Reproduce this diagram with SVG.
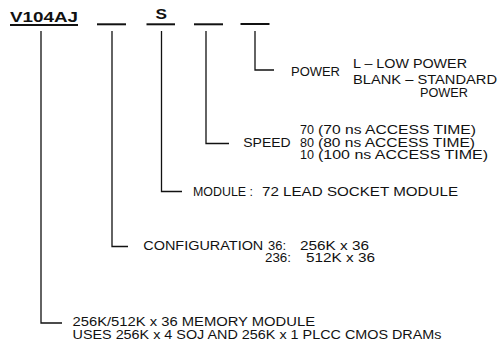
<svg xmlns="http://www.w3.org/2000/svg" width="499" height="346" viewBox="0 0 499 346">
<style>
.t{font-family:"Liberation Sans",Arial,sans-serif;font-size:12px;fill:#111}
.b{font-family:"Liberation Sans",Arial,sans-serif;font-size:15px;font-weight:bold;fill:#111}
.c{fill:none;stroke:#111;stroke-width:1.3}
.u{stroke:#111;stroke-width:2}
</style>
<rect width="499" height="346" fill="#fff"/>
<g id="part-number">
<text class="b" x="10" y="22" textLength="68" lengthAdjust="spacingAndGlyphs">V104AJ</text>
<line class="u" x1="10" y1="25" x2="78" y2="25"/>
</g>
<g id="blank-config"><line class="u" x1="97" y1="24.3" x2="126" y2="24.3"/></g>
<g id="blank-module">
<text class="b" x="155.5" y="19" textLength="11.5" lengthAdjust="spacingAndGlyphs">S</text>
<line class="u" x1="146.5" y1="24.3" x2="175" y2="24.3"/>
</g>
<g id="blank-speed"><line class="u" x1="194" y1="24.3" x2="223" y2="24.3"/></g>
<g id="blank-power"><line class="u" x1="240.5" y1="24" x2="269.5" y2="24"/></g>
<g id="connectors">
<path class="c" d="M41,31 V323 H62"/>
<path class="c" d="M112,31 V246.5 H128"/>
<path class="c" d="M161.5,31 V191.5 H182"/>
<path class="c" d="M206,31 V143.5 H229"/>
<path class="c" d="M255,31 V70 H274"/>
</g>
<g id="power">
<text class="t" x="291" y="76" textLength="49" lengthAdjust="spacingAndGlyphs">POWER</text>
<text class="t" x="353" y="67.5" textLength="114" lengthAdjust="spacingAndGlyphs">L – LOW POWER</text>
<text class="t" x="353" y="84" textLength="144" lengthAdjust="spacingAndGlyphs">BLANK – STANDARD</text>
<text class="t" x="420" y="96.5" textLength="48" lengthAdjust="spacingAndGlyphs">POWER</text>
</g>
<g id="speed">
<text class="t" x="300" y="134" textLength="14" lengthAdjust="spacingAndGlyphs">70</text>
<text class="t" x="318" y="134" textLength="158" lengthAdjust="spacingAndGlyphs">(70 ns ACCESS TIME)</text>
<text class="t" x="243.3" y="146.5" textLength="47.4" lengthAdjust="spacingAndGlyphs">SPEED</text>
<text class="t" x="300" y="146.5" textLength="14" lengthAdjust="spacingAndGlyphs">80</text>
<text class="t" x="318" y="146.5" textLength="157" lengthAdjust="spacingAndGlyphs">(80 ns ACCESS TIME)</text>
<text class="t" x="300" y="159" textLength="14" lengthAdjust="spacingAndGlyphs">10</text>
<text class="t" x="318" y="159" textLength="170" lengthAdjust="spacingAndGlyphs">(100 ns ACCESS TIME)</text>
</g>
<g id="module">
<text class="t" x="193" y="196" textLength="60" lengthAdjust="spacingAndGlyphs">MODULE :</text>
<text class="t" x="262" y="196" textLength="196" lengthAdjust="spacingAndGlyphs">72 LEAD SOCKET MODULE</text>
</g>
<g id="configuration">
<text class="t" x="143.3" y="249.5" textLength="120" lengthAdjust="spacingAndGlyphs">CONFIGURATION</text>
<text class="t" x="268" y="249.5" textLength="18" lengthAdjust="spacingAndGlyphs">36:</text>
<text class="t" x="300" y="249.5" textLength="69" lengthAdjust="spacingAndGlyphs">256K x 36</text>
<text class="t" x="265" y="262" textLength="26" lengthAdjust="spacingAndGlyphs">236:</text>
<text class="t" x="306" y="262" textLength="69" lengthAdjust="spacingAndGlyphs">512K x 36</text>
</g>
<g id="memory-module">
<text class="t" x="72.5" y="326" textLength="242.5" lengthAdjust="spacingAndGlyphs">256K/512K x 36 MEMORY MODULE</text>
<text class="t" x="72.5" y="338.5" textLength="369" lengthAdjust="spacingAndGlyphs">USES 256K x 4 SOJ AND 256K x 1 PLCC CMOS DRAMs</text>
</g>
</svg>
